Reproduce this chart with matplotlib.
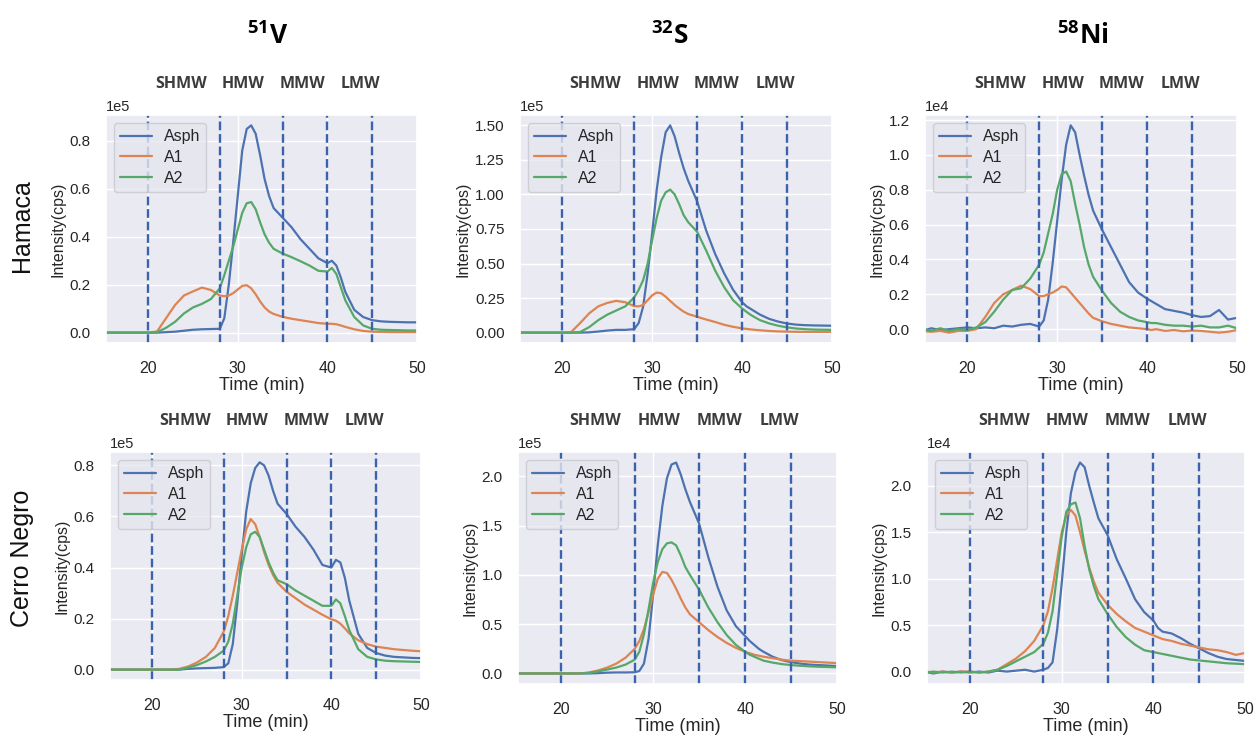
import numpy as np
import matplotlib
matplotlib.use('Agg')
import matplotlib.pyplot as plt
import matplotlib.transforms as mtransforms
import seaborn as sns

# retention time grid (min)
time_min = [15, 16, 17, 18, 19, 20, 21, 22, 23, 24, 25, 26, 27, 28,
            28.5, 29, 29.5, 30, 30.5, 31, 31.5, 32, 32.5, 33, 33.5, 34,
            35, 36, 37, 38, 39, 40, 40.5, 41, 41.5, 42,
            43, 44, 45, 46, 47, 48, 49, 50]

# Hamaca, 51V (x1e5 cps)
hamaca_v_asph = [0, 0, 0, 0, 0, 0, 0, 0.002, 0.004, 0.008, 0.012, 0.014, 0.015, 0.016,
                 0.06, 0.20, 0.38, 0.57, 0.76, 0.85, 0.865, 0.83, 0.74, 0.64, 0.57, 0.52,
                 0.48, 0.44, 0.39, 0.35, 0.31, 0.29, 0.30, 0.28, 0.23, 0.17,
                 0.095, 0.065, 0.052, 0.047, 0.045, 0.044, 0.043, 0.043]
hamaca_v_a1 = [0, 0, 0, 0, 0, 0, 0.005, 0.06, 0.115, 0.155, 0.172, 0.188, 0.178, 0.155,
               0.152, 0.155, 0.165, 0.18, 0.195, 0.198, 0.185, 0.16, 0.13, 0.105, 0.088, 0.078,
               0.066, 0.058, 0.052, 0.046, 0.040, 0.037, 0.037, 0.035, 0.030, 0.024,
               0.014, 0.007, 0.004, 0.003, 0.002, 0.002, 0.002, 0.002]
hamaca_v_a2 = [0, 0, 0, 0, 0, 0, 0.002, 0.02, 0.045, 0.08, 0.105, 0.12, 0.14, 0.185,
               0.24, 0.30, 0.36, 0.43, 0.50, 0.54, 0.545, 0.515, 0.46, 0.41, 0.375, 0.35,
               0.33, 0.315, 0.298, 0.28, 0.258, 0.255, 0.27, 0.245, 0.19, 0.135,
               0.065, 0.03, 0.016, 0.012, 0.011, 0.010, 0.009, 0.009]

# Hamaca, 32S (x1e5 cps)
hamaca_s_asph = [0, 0, 0, 0, 0, 0, 0, 0, 0.002, 0.008, 0.015, 0.02, 0.02, 0.025,
                 0.07, 0.19, 0.43, 0.72, 1.03, 1.27, 1.45, 1.50, 1.42, 1.30, 1.19, 1.10,
                 0.95, 0.74, 0.57, 0.43, 0.31, 0.22, 0.19, 0.17, 0.15, 0.13,
                 0.10, 0.08, 0.066, 0.058, 0.054, 0.052, 0.051, 0.05]
hamaca_s_a1 = [0, 0, 0, 0, 0, 0, 0.005, 0.07, 0.14, 0.19, 0.215, 0.23, 0.22, 0.192,
               0.19, 0.20, 0.235, 0.27, 0.29, 0.285, 0.26, 0.23, 0.20, 0.175, 0.152, 0.135,
               0.115, 0.095, 0.077, 0.057, 0.042, 0.031, 0.027, 0.023, 0.02, 0.017,
               0.012, 0.009, 0.007, 0.006, 0.005, 0.005, 0.005, 0.005]
hamaca_s_a2 = [0, 0, 0, 0, 0, 0, 0, 0.005, 0.04, 0.09, 0.13, 0.16, 0.19, 0.255,
               0.31, 0.38, 0.50, 0.67, 0.83, 0.955, 1.015, 1.035, 1.00, 0.93, 0.85, 0.80,
               0.73, 0.595, 0.45, 0.33, 0.235, 0.175, 0.15, 0.127, 0.108, 0.09,
               0.067, 0.05, 0.038, 0.03, 0.025, 0.022, 0.021, 0.02]

# Hamaca, 58Ni (x1e4 cps)
hamaca_ni_asph = [-0.01, 0.005, -0.005, 0.0, 0.005, 0.01, 0.005, 0.01, 0.005, 0.02, 0.015, 0.025, 0.03, 0.015,
                  0.05, 0.17, 0.38, 0.62, 0.86, 1.06, 1.17, 1.13, 1.00, 0.88, 0.77, 0.68,
                  0.57, 0.47, 0.37, 0.27, 0.21, 0.175, 0.16, 0.145, 0.13, 0.115,
                  0.105, 0.095, 0.08, 0.07, 0.075, 0.11, 0.055, 0.065]
hamaca_ni_a1 = [-0.01, -0.015, -0.01, -0.02, -0.01, -0.01, 0.0, 0.07, 0.15, 0.20, 0.225, 0.25, 0.23, 0.19,
                0.19, 0.20, 0.21, 0.225, 0.245, 0.24, 0.21, 0.18, 0.15, 0.12, 0.09, 0.065,
                0.045, 0.03, 0.02, 0.01, 0.005, 0.0, -0.005, 0.0, -0.005, -0.01,
                -0.005, -0.012, -0.008, -0.01, -0.015, -0.02, -0.015, -0.005]
hamaca_ni_a2 = [0.0, -0.01, 0.005, -0.01, 0.0, -0.005, 0.01, 0.04, 0.10, 0.17, 0.225, 0.235, 0.29, 0.37,
                0.44, 0.55, 0.66, 0.80, 0.89, 0.905, 0.85, 0.72, 0.60, 0.47, 0.37, 0.30,
                0.22, 0.15, 0.10, 0.07, 0.05, 0.04, 0.035, 0.035, 0.03, 0.025,
                0.02, 0.02, 0.015, 0.02, 0.01, 0.01, 0.02, 0.005]

# Cerro Negro, 51V (x1e5 cps)
cerro_v_asph = [0, 0, 0, 0, 0, 0, 0, 0, 0, 0.003, 0.005, 0.006, 0.007, 0.01,
                0.025, 0.10, 0.26, 0.45, 0.62, 0.73, 0.79, 0.812, 0.80, 0.76, 0.70, 0.65,
                0.61, 0.56, 0.52, 0.47, 0.41, 0.40, 0.43, 0.42, 0.36, 0.27,
                0.14, 0.085, 0.065, 0.055, 0.05, 0.048, 0.046, 0.045]
cerro_v_a1 = [0, 0, 0, 0, 0, 0, 0, 0, 0.003, 0.012, 0.028, 0.05, 0.085, 0.15,
              0.21, 0.29, 0.38, 0.47, 0.55, 0.59, 0.57, 0.52, 0.46, 0.41, 0.37, 0.34,
              0.305, 0.28, 0.255, 0.235, 0.215, 0.197, 0.192, 0.18, 0.162, 0.142,
              0.115, 0.10, 0.09, 0.085, 0.08, 0.077, 0.074, 0.072]
cerro_v_a2 = [0, 0, 0, 0, 0, 0, 0, 0, 0, 0.008, 0.018, 0.032, 0.05, 0.075,
              0.11, 0.18, 0.29, 0.40, 0.48, 0.53, 0.54, 0.52, 0.47, 0.42, 0.38, 0.35,
              0.335, 0.31, 0.29, 0.27, 0.25, 0.25, 0.275, 0.26, 0.21, 0.155,
              0.08, 0.05, 0.04, 0.035, 0.033, 0.032, 0.031, 0.03]

# Cerro Negro, 32S (x1e5 cps)
cerro_s_asph = [0, 0, 0, 0, 0, 0, 0, 0, 0, 0.003, 0.008, 0.01, 0.01, 0.012,
                0.025, 0.10, 0.35, 0.80, 1.30, 1.70, 1.98, 2.12, 2.14, 2.02, 1.87, 1.74,
                1.52, 1.18, 0.88, 0.64, 0.48, 0.38, 0.33, 0.29, 0.25, 0.22,
                0.17, 0.135, 0.115, 0.10, 0.09, 0.085, 0.08, 0.075]
cerro_s_a1 = [0, 0, 0, 0, 0, 0, 0, 0, 0.01, 0.03, 0.06, 0.10, 0.16, 0.25,
              0.33, 0.45, 0.62, 0.80, 0.96, 1.03, 1.02, 0.95, 0.86, 0.76, 0.67, 0.60,
              0.52, 0.44, 0.37, 0.31, 0.26, 0.22, 0.205, 0.19, 0.18, 0.17,
              0.155, 0.14, 0.13, 0.125, 0.12, 0.115, 0.11, 0.105]
cerro_s_a2 = [0, 0, 0, 0, 0, 0, 0, 0, 0.005, 0.02, 0.04, 0.06, 0.09, 0.14,
              0.22, 0.40, 0.65, 0.92, 1.13, 1.26, 1.32, 1.33, 1.30, 1.20, 1.08, 1.00,
              0.85, 0.67, 0.52, 0.39, 0.29, 0.22, 0.19, 0.17, 0.15, 0.13,
              0.11, 0.095, 0.085, 0.078, 0.072, 0.068, 0.065, 0.062]

# Cerro Negro, 58Ni (x1e4 cps)
cerro_ni_asph = [0.0, -0.02, 0.0, -0.01, 0.0, -0.01, 0.0, -0.01, 0.01, 0.0, 0.01, 0.02, 0.0, 0.02,
                 0.04, 0.10, 0.45, 0.95, 1.50, 1.92, 2.15, 2.25, 2.20, 2.00, 1.82, 1.65,
                 1.47, 1.21, 1.00, 0.78, 0.64, 0.55, 0.47, 0.43, 0.42, 0.41,
                 0.36, 0.30, 0.25, 0.20, 0.16, 0.135, 0.125, 0.115]
cerro_ni_a1 = [0.0, -0.01, 0.0, -0.01, 0.0, 0.0, -0.01, 0.0, 0.02, 0.08, 0.14, 0.22, 0.33, 0.50,
               0.65, 0.90, 1.20, 1.50, 1.68, 1.74, 1.68, 1.50, 1.30, 1.12, 0.97, 0.85,
               0.72, 0.62, 0.54, 0.47, 0.43, 0.39, 0.37, 0.35, 0.34, 0.33,
               0.30, 0.28, 0.26, 0.24, 0.23, 0.21, 0.18, 0.20]
cerro_ni_a2 = [-0.01, 0.0, -0.01, 0.0, -0.01, 0.0, -0.01, 0.0, 0.02, 0.06, 0.11, 0.16, 0.21, 0.30,
               0.42, 0.65, 1.05, 1.45, 1.72, 1.80, 1.82, 1.65, 1.35, 1.10, 0.92, 0.78,
               0.62, 0.48, 0.37, 0.29, 0.23, 0.21, 0.20, 0.19, 0.18, 0.17,
               0.15, 0.13, 0.12, 0.11, 0.10, 0.09, 0.085, 0.08]

fractions = ['Asph', 'A1', 'A2']
colors = ['#4C72B0', '#DD8452', '#55A868']
elements = [r'$\mathbf{^{51}V}$', r'$\mathbf{^{32}S}$', r'$\mathbf{^{58}Ni}$']
crudes = ['Hamaca', 'Cerro Negro']
boundaries = [20, 28, 35, 40, 45]
regions = ['SHMW', 'HMW', 'MMW', 'LMW']
region_x = [23.7, 30.6, 37.2, 43.7]

series = [
    [(hamaca_v_asph, hamaca_v_a1, hamaca_v_a2), (hamaca_s_asph, hamaca_s_a1, hamaca_s_a2),
     (hamaca_ni_asph, hamaca_ni_a1, hamaca_ni_a2)],
    [(cerro_v_asph, cerro_v_a1, cerro_v_a2), (cerro_s_asph, cerro_s_a1, cerro_s_a2),
     (cerro_ni_asph, cerro_ni_a1, cerro_ni_a2)],
]
exponents = [5, 5, 4]

sns.set_theme(style='darkgrid')
plt.rcParams['font.family'] = ['Liberation Sans', 'DejaVu Sans']
plt.rcParams['mathtext.fontset'] = 'custom'
plt.rcParams['mathtext.rm'] = 'Open Sans'
plt.rcParams['mathtext.bf'] = 'Open Sans:bold'

W, H = 1256, 736
fig = plt.figure(figsize=(W / 100, H / 100), dpi=100)

# panel boxes in pixels: left, top, width, height
boxes = [
    [(106, 115, 311, 228), (520, 115, 312, 228), (925, 115, 312, 228)],
    [(110, 452, 311, 228), (518, 452, 319, 232), (927, 452, 318, 232)],
]

for r in range(2):
    for c in range(3):
        left, top, w, h = boxes[r][c]
        ax = fig.add_axes([left / W, 1 - (top + h) / H, w / W, h / H])
        scale = 10.0 ** exponents[c]
        for name, vals, col in zip(fractions, series[r][c], colors):
            ax.plot(time_min, np.array(vals) * scale, color=col, lw=1.6, label=name)
        for b in boundaries:
            ax.axvline(b, color='#3a62ad', ls='--', lw=1.7)
        ax.set_xlim(15.3, 50)
        ax.set_xticks([20, 30, 40, 50])
        ax.ticklabel_format(axis='y', style='sci', scilimits=(exponents[c], exponents[c]))
        ax.yaxis.get_offset_text().set_fontsize(10.5)
        ax.tick_params(axis='x', labelsize=11.5, pad=7)
        ax.tick_params(axis='y', labelsize=11, pad=5)
        ax.set_xlabel('Time (min)', fontsize=13, labelpad=1)
        ax.set_ylabel('Intensity(cps)', fontsize=11.5, labelpad=3)
        ax.legend(loc='upper left', fontsize=11.5, handlelength=2.0, labelspacing=0.35,
                  handletextpad=0.7, edgecolor='#c8c8d0', facecolor='#e6e6ee')
        trans = mtransforms.blended_transform_factory(ax.transData, ax.transAxes)
        for lab, xc in zip(regions, region_x):
            ax.text(xc, 1.135, lab, transform=trans, ha='center', va='center',
                    fontfamily='Open Sans', fontweight='bold', fontsize=11.5, color='#3c3c3c')

col_x = [268, 670, 1083]
for t, x in zip(elements, col_x):
    fig.text(x / W, 1 - 35 / H, t, ha='center', va='center', fontsize=19, color='black')

row_y = [226, 558]
for name, y in zip(crudes, row_y):
    fig.text(22 / W, 1 - y / H, name, rotation=90, ha='center', va='center',
             fontsize=18, color='#111111')

fig.savefig('out.png', dpi=100)
